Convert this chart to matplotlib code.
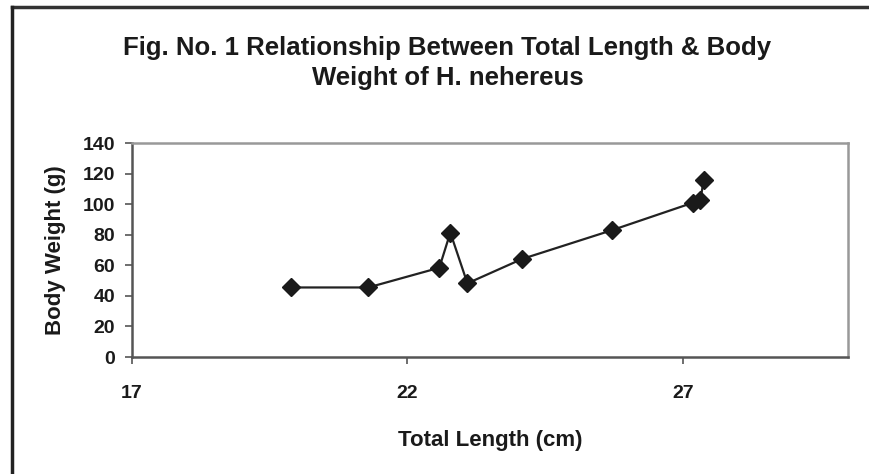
#!/usr/bin/env python3
"""Total length vs body weight of H. nehereus (line with diamond markers)."""

import matplotlib
matplotlib.use("Agg")
import matplotlib.pyplot as plt
from matplotlib.lines import Line2D

plt.rcParams.update({
    "font.family": ["Liberation Sans", "DejaVu Sans"],
    "font.weight": "bold",
})

# ── Data ────────────────────────────────────────────────────────────────
total_length = [19.89, 21.29, 22.58, 22.78, 23.09, 24.08, 25.71, 27.19, 27.32, 27.38]
body_weight = [45.5, 45.5, 58.4, 81.4, 48.2, 64.1, 82.9, 101.0, 102.4, 115.9]

x_ticks = [17, 22, 27]
y_ticks = [0, 20, 40, 60, 80, 100, 120, 140]

TITLE = "Fig. No. 1 Relationship Between Total Length & Body\nWeight of H. nehereus"


def main():
    fig = plt.figure(figsize=(8.69, 4.74), dpi=100)
    ax = fig.add_axes([0.1519, 0.2468, 0.8239, 0.4515])

    ax.plot(total_length, body_weight, "-", color="#222222", linewidth=1.6,
            marker="D", markersize=9.5, markerfacecolor="#1a1a1a",
            markeredgecolor="#1a1a1a", zorder=3, clip_on=False)

    ax.set_xlim(17, 30)
    ax.set_ylim(0, 140)
    ax.set_xticks(x_ticks)
    ax.set_yticks(y_ticks)
    ax.tick_params(axis="both", labelsize=14, length=5, width=1.2,
                   color="#555555", direction="out")
    ax.tick_params(axis="x", pad=15)
    ax.tick_params(axis="y", pad=7)
    for lab in ax.get_xticklabels() + ax.get_yticklabels():
        lab.set_fontweight("bold")
        lab.set_color("#1a1a1a")

    for side in ("left", "bottom"):
        ax.spines[side].set_color("#555555")
        ax.spines[side].set_linewidth(1.8)
    for side in ("top", "right"):
        ax.spines[side].set_color("#999999")
        ax.spines[side].set_linewidth(1.8)

    ax.set_xlabel("Total Length (cm)", fontsize=16, fontweight="bold",
                  color="#1a1a1a", labelpad=20)
    ax.set_ylabel("Body Weight (g)", fontsize=16, fontweight="bold",
                  color="#1a1a1a", labelpad=12)

    fig.text(0.515, 0.867, TITLE, ha="center", va="center", fontsize=18.5,
             fontweight="bold", color="#1a1a1a", linespacing=1.35)

    # outer frame (top and left edges visible in the original)
    fig.add_artist(Line2D([12 / 869, 1], [1 - 7 / 474, 1 - 7 / 474],
                          transform=fig.transFigure, color="#333333", linewidth=2.5))
    fig.add_artist(Line2D([12 / 869, 12 / 869], [0, 1 - 7 / 474],
                          transform=fig.transFigure, color="#222222", linewidth=2.5))

    fig.savefig("out.png", dpi=100)
    plt.close(fig)


if __name__ == "__main__":
    main()
